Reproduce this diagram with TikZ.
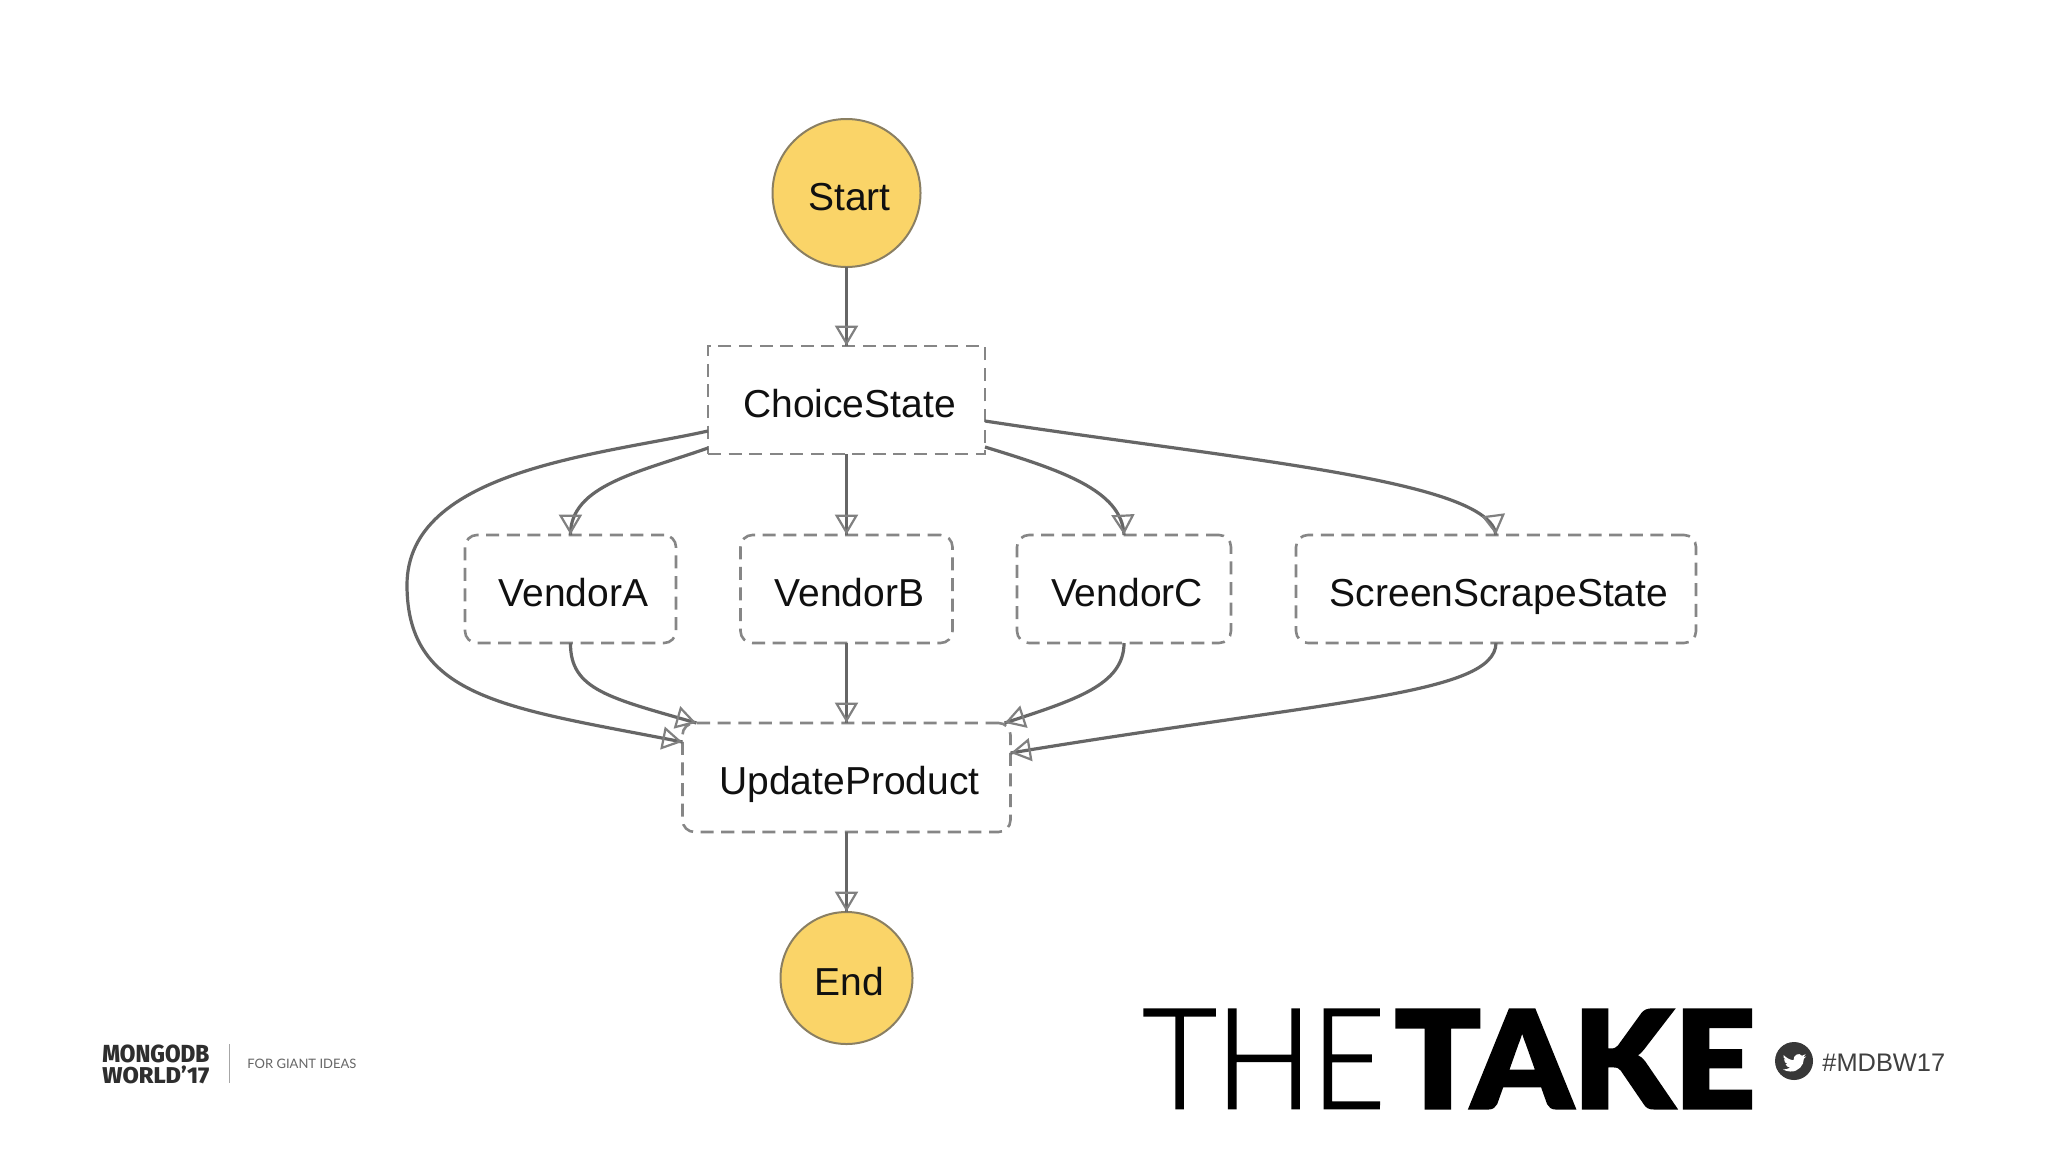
\documentclass[tikz,border=0pt]{standalone}
\usepackage{fontspec}
\usepackage{graphicx}
\setmainfont{Liberation Sans}
\usetikzlibrary{arrows.meta,calc,decorations.markings}
\definecolor{boxgray}{HTML}{868686}
\definecolor{linegray}{HTML}{666666}
\definecolor{tipgray}{HTML}{808080}
\definecolor{sun}{HTML}{FAD468}
\definecolor{rim}{HTML}{8A7F62}
\definecolor{ink}{HTML}{101010}
\newcommand{\lbl}[1]{\hspace*{3pt}\raisebox{-8.7pt}[0pt][0pt]{#1}}
\tikzset{
  statebox/.style={draw=boxgray,line width=1.3pt,dash pattern=on 6.5pt off 3.8pt,fill=white,inner sep=0pt,outer sep=0pt,text=ink,font=\fontsize{19.5}{21}\selectfont},
  plainbox/.style={statebox},
  softbox/.style={statebox,rounded corners=6pt},
  terminal/.style={circle,draw=rim,line width=1pt,fill=sun,inner sep=0pt,outer sep=0pt,text=ink,font=\fontsize{19.5}{21}\selectfont},
  conn/.style={draw=linegray,line width=1.6pt,postaction={decorate},decoration={markings,mark=at position -0.2pt with {\arrow{Triangle[open,length=10pt,width=11.5pt,line width=1.1pt,color=tipgray]}}}},
}
\begin{document}
\begin{tikzpicture}[x=0.5pt,y=-0.5pt]
\useasboundingbox (0,0) rectangle (2048,1152);
\fill[white] (0,0) rectangle (2048,1152);
\node[terminal,minimum size=74pt] (start) at (846.5,193) {\lbl{Start}};
\node[plainbox,minimum width=138.5pt,minimum height=54pt] (choice) at (846.5,400) {\lbl{ChoiceState}};
\node[softbox,minimum width=105.5pt,minimum height=54pt] (va) at (570.5,589) {\lbl{VendorA}};
\node[softbox,minimum width=106pt,minimum height=54pt] (vb) at (846.5,589) {\lbl{VendorB}};
\node[softbox,minimum width=107pt,minimum height=54pt] (vc) at (1124,589) {\lbl{VendorC}};
\node[softbox,minimum width=200pt,minimum height=54pt] (ss) at (1496,589) {\lbl{ScreenScrapeState}};
\node[softbox,minimum width=164pt,minimum height=54.5pt] (up) at (846.5,777.5) {\lbl{UpdateProduct}};
\node[terminal,minimum size=66pt] (end) at (846.5,978) {\lbl{End}};
\draw[conn] (start) -- (choice);
\draw[conn] (choice) -- (vb);
\draw[conn] (vb) -- (up);
\draw[conn] (up) -- (end);
\draw[conn] ([yshift=3pt]choice.south west) .. controls (640,472) and (570,485) .. (va.north);
\draw[conn] ([yshift=3.5pt]choice.south east) .. controls (1060,470) and (1122,490) .. (vc.north);
\draw[conn] ([yshift=11.5pt]choice.south west) .. controls (600,455) and (407,470) .. (407,585) .. controls (407,700) and (510,708) .. ([yshift=-9.5pt]up.north west);
\draw[conn] ([yshift=16.5pt]choice.south east) .. controls (1240,460) and (1490,480) .. (ss.north);
\draw[conn] (va.south) .. controls (570,690) and (610,698) .. ([xshift=7pt]up.north west);
\draw[conn] (vc.south) .. controls (1124,685) and (1075,700) .. ([xshift=-3pt]up.north east);
\draw[conn] (ss.south) .. controls (1495,695) and (1330,700) .. ([yshift=-15pt]up.north east);
% footer: conference mark
\node[inner sep=0pt,anchor=north west,text=black!82] (mdba) at (102,1044) {\resizebox{53.5pt}{8.8pt}{\fontspec{Fira Sans}[UprightFont=* ExtraBold]MONGODB}};
\node[inner sep=0pt,anchor=north west,text=black!82] (mdbb) at (102,1065.5) {\resizebox{53.5pt}{8.8pt}{\fontspec{Fira Sans}[UprightFont=* ExtraBold]WORLD’17}};
\coordinate (sepa) at (229.5,1044);
\coordinate (sepb) at (229.5,1083);
\draw[black!35,line width=0.7pt] (sepa) -- (sepb);
\node[inner sep=0pt,anchor=west,text=black!60] (tag) at (247,1064) {\resizebox{54.5pt}{!}{\fontspec{Lato}FOR GIANT IDEAS}};
% THE TAKE wordmark
\node[inner sep=0pt,anchor=north west] (the) at (1142,1009) {\resizebox{121.5pt}{49.5pt}{\fontspec{Lato Light}[FakeBold=1.5]T\kern-0.01em H\kern-0.01em E}};
\node[inner sep=0pt,anchor=north west] (take) at (1394,1009) {\resizebox{180.5pt}{49.5pt}{\fontspec{Lato Black}[FakeBold=1.6]TAKE}};
% hashtag
\node[circle,fill=black!78,minimum size=19pt,inner sep=0pt] (tw) at (1794,1061) {};
\fill[white,shift={(tw.center)},scale=1] (-10.5,-6) .. controls (-7,-2.5) and (-3.5,-1) .. (-0.5,-0.8)
  .. controls (-1,-6) and (5,-9) .. (8,-5.3) .. controls (9.5,-5.6) and (10.5,-6.2) .. (11.5,-6.8)
  .. controls (11.2,-5.5) and (10.5,-4.5) .. (9.5,-3.8) .. controls (10.5,-3.9) and (11.5,-4.2) .. (12.2,-4.6)
  .. controls (11.5,-3.6) and (10.8,-2.8) .. (9.8,-2.2) .. controls (10.2,4) and (4,11) .. (-3.5,10.5)
  .. controls (-6.5,10.5) and (-9,9.6) .. (-11,8.4) .. controls (-8.5,8.6) and (-6,8) .. (-4,6.5)
  .. controls (-6,6.4) and (-7.8,5) .. (-8.4,3.2) .. controls (-7.6,3.4) and (-7,3.3) .. (-6.2,3.1)
  .. controls (-8.5,2.6) and (-10,0.6) .. (-10,-1.8) .. controls (-9.3,-1.4) and (-8.6,-1.2) .. (-7.8,-1.2)
  .. controls (-10,-2.6) and (-11.3,-3.6) .. (-10.5,-6) -- cycle;
\node[inner sep=0pt,anchor=west,text=black!75,font=\fontsize{12.7}{14}\selectfont] (tagb) at (1822,1063) {\#MDBW17};
\end{tikzpicture}
\end{document}
